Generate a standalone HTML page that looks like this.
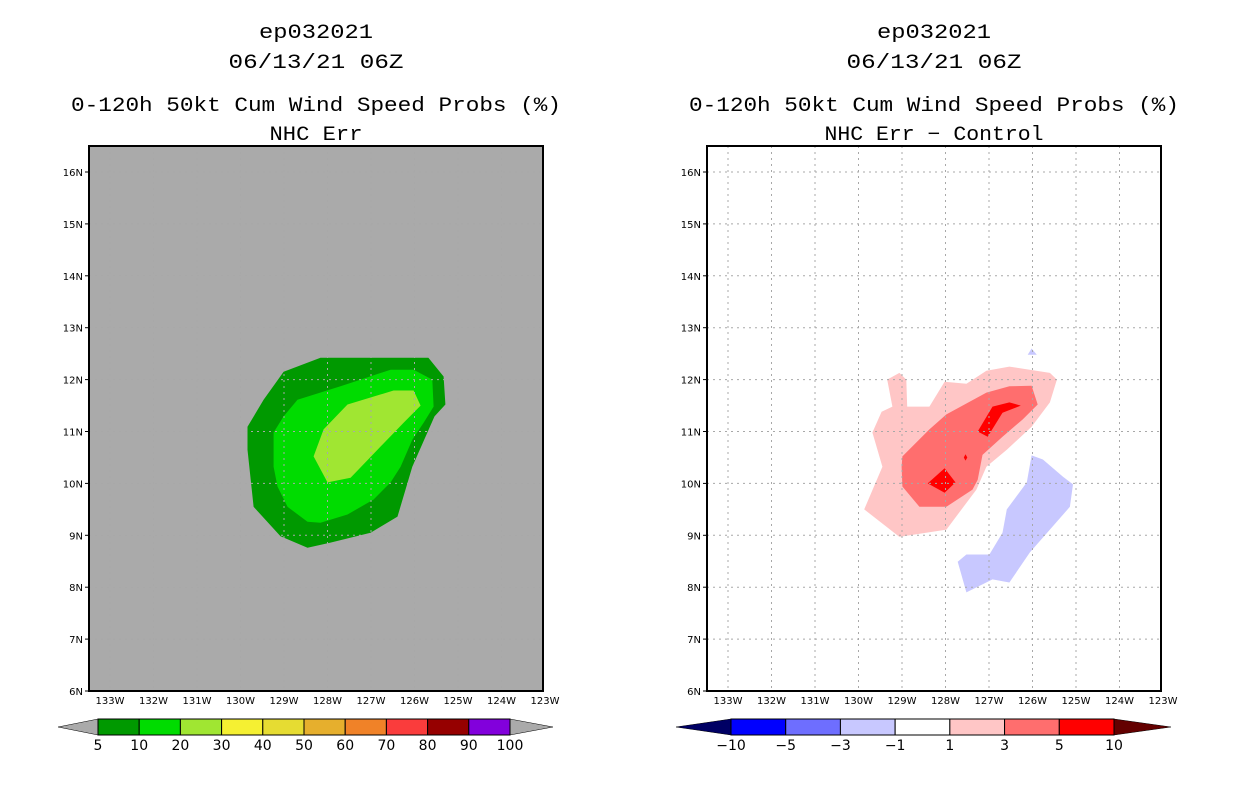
<!DOCTYPE html>
<html><head><meta charset="utf-8">
<style>
body{margin:0;background:#fff;}
svg text{font-family:"DejaVu Sans","Liberation Sans",sans-serif;}
</style></head>
<body>
<svg id="chart" width="1236" height="800" viewBox="0 0 1236 800" xmlns="http://www.w3.org/2000/svg">
<g id="left"></g>
<g id="right"></g>
</svg>
<script>
// ---- data ----
const lonTicks = [133,132,131,130,129,128,127,126,125,124,123];
const latTicks = [6,7,8,9,10,11,12,13,14,15,16];
const leftContours = [
 {level:"5-10", color:"#009900", pts:[[129.01,12.15],[128.16,12.42],[125.68,12.42],[125.33,12.06],[125.29,11.52],[125.54,11.29],[126.05,10.32],[126.39,9.36],[127.01,9.05],[127.93,8.86],[128.46,8.76],[129.08,8.98],[129.70,9.55],[129.84,10.65],[129.84,11.09],[129.47,11.61]]},
 {level:"10-20", color:"#00dc00", pts:[[129.01,11.29],[128.69,11.61],[127.70,11.87],[126.55,12.19],[126.02,12.19],[125.59,12.00],[125.56,11.48],[125.79,11.17],[126.05,10.84],[126.32,10.32],[126.55,10.02],[126.94,9.69],[127.54,9.40],[128.16,9.24],[128.46,9.26],[128.92,9.55],[129.15,9.94],[129.24,10.32],[129.24,10.98]]},
 {level:"20-30", color:"#a0e632", pts:[[128.09,11.04],[127.54,11.52],[126.48,11.79],[126.02,11.79],[125.86,11.50],[126.25,11.17],[126.85,10.65],[127.47,10.11],[128.00,10.02],[128.32,10.52]]}
];
const rightContours = [
 {level:"1-3", color:"#ffc6c6", pts:[[129.34,12.00],[129.06,12.13],[128.90,12.00],[128.88,11.48],[128.37,11.48],[128.02,11.96],[127.52,11.92],[127.06,12.17],[126.53,12.25],[125.60,12.13],[125.44,12.00],[125.60,11.56],[126.02,11.09],[126.59,10.65],[127.06,10.32],[127.29,9.88],[127.98,9.11],[129.06,8.97],[129.87,9.50],[129.45,10.32],[129.68,10.98],[129.47,11.38],[129.22,11.48]]},
 {level:"3-5", color:"#ff6e6e", pts:[[128.99,10.52],[128.37,11.04],[127.98,11.33],[127.06,11.75],[126.53,11.87],[126.02,11.88],[125.88,11.52],[126.23,11.23],[126.69,10.90],[127.15,10.55],[127.26,10.07],[127.38,9.88],[127.98,9.55],[128.60,9.55],[128.99,9.94],[129.01,10.32]]},
 {level:"5-10a", color:"#ff0000", pts:[[128.41,10.00],[128.02,10.29],[127.77,10.02],[128.02,9.82]]},
 {level:"5-10b", color:"#ff0000", pts:[[127.26,11.00],[126.92,11.48],[126.53,11.56],[126.27,11.50],[126.69,11.36],[127.03,10.90]]},
 {level:"5-10c", color:"#ff0000", pts:[[127.58,10.50],[127.54,10.56],[127.50,10.50],[127.54,10.44]]},
 {level:"neg1-3", color:"#c8c8ff", pts:[[126.02,10.54],[125.76,10.46],[125.30,10.13],[125.07,9.98],[125.14,9.55],[125.60,9.11],[126.06,8.67],[126.53,8.09],[126.92,8.15],[127.52,7.90],[127.72,8.49],[127.52,8.63],[126.99,8.63],[126.69,9.05],[126.59,9.50],[126.13,10.02]]},
 {level:"neg1-3b", color:"#c8c8ff", pts:[[126.11,12.48],[126.02,12.60],[125.90,12.48]]}
];
const leftBarColors = ["#009900","#00dc00","#a0e632","#f5f032","#e6dc32","#e6af2d","#f08228","#fa3c3c","#960000","#8200dc"];
const leftBarLabels = ["5","10","20","30","40","50","60","70","80","90","100"];
const rightBarColors = ["#0000ff","#6e6eff","#c8c8ff","#ffffff","#ffc6c6","#ff6e6e","#ff0000"];
const rightBarLabels = ["−10","−5","−3","−1","1","3","5","10"];

const NS="http://www.w3.org/2000/svg";
function mk(parent,tag,attrs,text){const e=document.createElementNS(NS,tag);for(const k in attrs)e.setAttribute(k,attrs[k]);if(text!==undefined)e.textContent=text;parent.appendChild(e);return e;}

function panel(g, x0, bg, contours, titles, titleW, barColors, barLabels, barX0, barX1, tipL, tipR, lcol, rcol){
  const x1=x0+454, yTop=146, yBot=691;
  const lonToX = lon => x0 + 238.5 + (128 - lon)*43.5;
  const latToY = lat => yBot - (lat-6)*51.9;
  const cx=(x0+x1)/2;
  titles.forEach((t,i)=>{
    const el=mk(g,'text',{x:cx,y:[38,68,111,140][i],'text-anchor':'middle','font-size':20,fill:'#000',
      style:'font-family:"Liberation Mono",monospace',textLength:titleW[i],lengthAdjust:'spacingAndGlyphs'},t);
    
    
  });
  const bgr=mk(g,'rect',{x:x0,y:yTop,width:454,height:yBot-yTop,fill:bg});
  
  
  contours.forEach(c=>{
    const p=mk(g,'polygon',{points:c.pts.map(q=>lonToX(q[0]).toFixed(1)+','+latToY(q[1]).toFixed(1)).join(' '),fill:c.color});
    
    
  });
  lonTicks.forEach(l=>{
    const x=lonToX(l);
    if(l>123 && l<133.4){
      const gl=mk(g,'line',{x1:x,y1:yTop,x2:x,y2:yBot,stroke:'#a8a8a8','stroke-width':1,'stroke-dasharray':'2,4'});
      
      
    }
    const t=mk(g,'text',{x:x,y:704,'text-anchor':'middle','font-size':10,fill:'#000'},l+'W');
    
    
  });
  latTicks.forEach(l=>{
    const y=latToY(l);
    if(l>6){
      const gl=mk(g,'line',{x1:x0,y1:y,x2:x1,y2:y,stroke:'#a8a8a8','stroke-width':1,'stroke-dasharray':'2,4'});
      
      
    }
    mk(g,'line',{x1:x0-4,y1:y,x2:x0,y2:y,stroke:'#000'});
    const t=mk(g,'text',{x:x0-6,y:y+4,'text-anchor':'end','font-size':10,fill:'#000'},l+'N');
    
    
  });
  const fr=mk(g,'rect',{x:x0,y:yTop,width:454,height:yBot-yTop,fill:'none',stroke:'#000','stroke-width':2});
  
  
  const cb=mk(g,'g',{});
  
  
  const y0=719,y1=735,ym=727;
  mk(cb,'polygon',{points:`${tipL},${ym} ${barX0},${y0} ${barX0},${y1}`,fill:lcol,stroke:'#000','stroke-width':0.5});
  mk(cb,'polygon',{points:`${tipR},${ym} ${barX1},${y0} ${barX1},${y1}`,fill:rcol,stroke:'#000','stroke-width':0.5});
  const w=(barX1-barX0)/barColors.length;
  barColors.forEach((c,i)=>{
    const r=mk(cb,'rect',{x:barX0+i*w,y:y0,width:w,height:y1-y0,fill:c,stroke:'#000','stroke-width':1});
    
    
  });
  barLabels.forEach((s,i)=>{
    const t=mk(cb,'text',{x:barX0+i*w,y:750,'text-anchor':'middle','font-size':14,fill:'#000'},s);
    
    
  });
}
panel(document.getElementById('left'),89,'#aaaaaa',leftContours,
  ['ep032021','06/13/21 06Z','0-120h 50kt Cum Wind Speed Probs (%)','NHC Err'],[114,175,490,93],
  leftBarColors,leftBarLabels,98,510,58,553,'#aaaaaa','#aaaaaa');
panel(document.getElementById('right'),707,'#ffffff',rightContours,
  ['ep032021','06/13/21 06Z','0-120h 50kt Cum Wind Speed Probs (%)','NHC Err − Control'],[114,175,490,219],
  rightBarColors,rightBarLabels,731,1114,676,1171,'#000064','#640000');
</script>
</body></html>
